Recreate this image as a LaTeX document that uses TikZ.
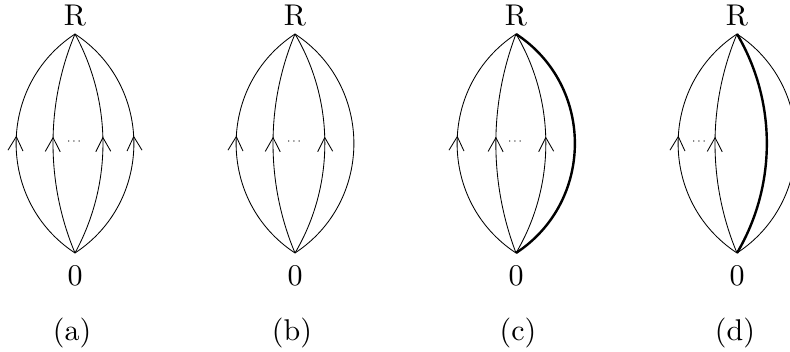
\documentclass[tikz,border=0pt]{standalone}
\usepackage{fontspec}
\usetikzlibrary{arrows.meta,decorations.markings}
\newcommand{\bigtxt}[1]{\scalebox{3.0}{#1}}
\tikzset{
  edge/.style={line width=0.85pt},
  thickedge/.style={line width=2.4pt},
  bwide/.style={looseness=1.10},
  bmid/.style={looseness=0.915},
  bnarrow/.style={looseness=0.886},
  midarrow/.style={postaction={decorate,decoration={markings,
     mark=at position 0.53 with {\arrow[line width=0.85pt]{Straight Barb[length=14pt,width=15pt]}}}}},
  lbl/.style={font=\fontsize{10}{12}\selectfont, inner sep=0pt},
  dotlbl/.style={font=\fontsize{12}{14}\selectfont, inner sep=0pt}
}
\begin{document}
\begin{tikzpicture}[x=1pt,y=-1pt]
\useasboundingbox (0,0) rectangle (790,352);
% ---------- panel (a)
\coordinate (Ra) at (75,34);
\coordinate (Za) at (75,253);
\node[lbl] (tRa) at (75,16) {\bigtxt{R}};
\node[lbl] (tZa) at (75,276) {\bigtxt{0}};
\node[lbl] (capa) at (72,333) {\bigtxt{(a)}};
\node[dotlbl] (dota) at (74,142) {$\cdots$};
\draw[edge,midarrow] (Za) to[bend left=56.7,bwide] (Ra);
\draw[edge,midarrow] (Za) to[bend left=22.8,bnarrow] (Ra);
\draw[edge,midarrow] (Za) to[bend right=28.5,bmid] (Ra);
\draw[edge,midarrow] (Za) to[bend right=56.7,bwide] (Ra);
% ---------- panel (b)
\coordinate (Rb) at (295,34);
\coordinate (Zb) at (295,253);
\node[lbl] (tRb) at (295,16) {\bigtxt{R}};
\node[lbl] (tZb) at (295,276) {\bigtxt{0}};
\node[lbl] (capb) at (292,333) {\bigtxt{(b)}};
\node[dotlbl] (dotb) at (294,142) {$\cdots$};
\draw[edge,midarrow] (Zb) to[bend left=56.7,bwide] (Rb);
\draw[edge,midarrow] (Zb) to[bend left=22.8,bnarrow] (Rb);
\draw[edge,midarrow] (Zb) to[bend right=30.6,bmid] (Rb);
\draw[edge] (Zb) to[bend right=56.7,bwide] (Rb);
% ---------- panel (c)
\coordinate (Rc) at (516,34);
\coordinate (Zc) at (516,253);
\node[lbl] (tRc) at (516,16) {\bigtxt{R}};
\node[lbl] (tZc) at (516,276) {\bigtxt{0}};
\node[lbl] (capc) at (518,333) {\bigtxt{(c)}};
\node[dotlbl] (dotc) at (515,142) {$\cdots$};
\draw[edge,midarrow] (Zc) to[bend left=56.7,bwide] (Rc);
\draw[edge,midarrow] (Zc) to[bend left=20.8,bnarrow] (Rc);
\draw[edge,midarrow] (Zc) to[bend right=30.6,bmid] (Rc);
\draw[thickedge] (Zc) to[bend right=56.7,bwide] (Rc);
% ---------- panel (d)
\coordinate (Rd) at (737,34);
\coordinate (Zd) at (737,253);
\node[lbl] (tRd) at (737,16) {\bigtxt{R}};
\node[lbl] (tZd) at (737,276) {\bigtxt{0}};
\node[lbl] (capd) at (735,333) {\bigtxt{(d)}};
\node[dotlbl] (dotd) at (699,142) {$\cdots$};
\draw[edge,midarrow] (Zd) to[bend left=56.7,bwide] (Rd);
\draw[edge,midarrow] (Zd) to[bend left=22.8,bnarrow] (Rd);
\draw[thickedge] (Zd) to[bend right=30.6,bmid] (Rd);
\draw[edge] (Zd) to[bend right=56.7,bwide] (Rd);
\end{tikzpicture}
\end{document}
